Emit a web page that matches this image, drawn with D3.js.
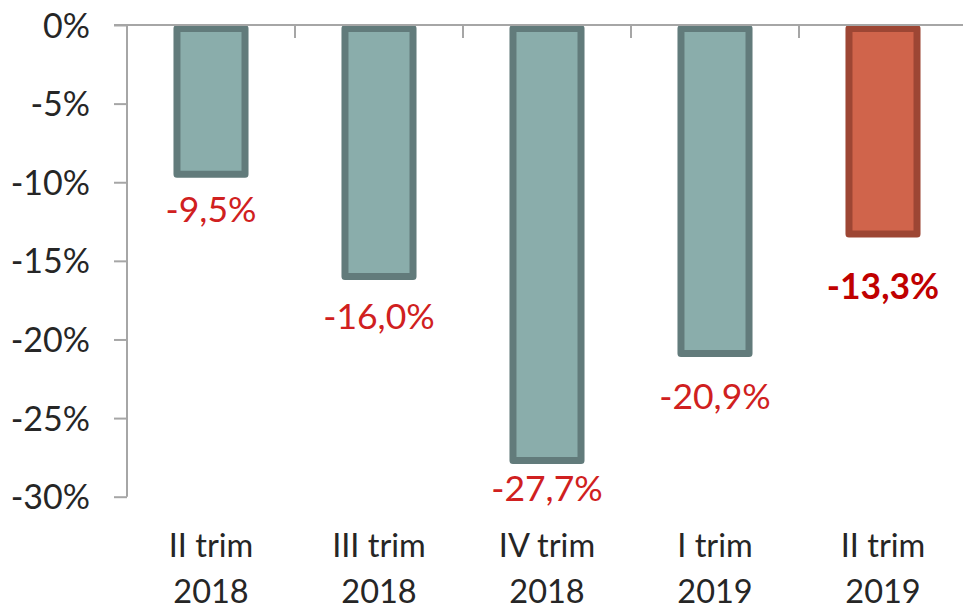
<!DOCTYPE html>
<html>
<head>
<meta charset="utf-8">
<script src="https://cdn.jsdelivr.net/npm/d3@7"></script>
<style>
  html, body { margin: 0; padding: 0; background: #ffffff; }
  svg { display: block; }
</style>
</head>
<body>
<svg id="chart" width="963" height="609"></svg>
<script>
// ---- data ----
const categoriesLine1 = ["II trim", "III trim", "IV trim", "I trim", "II trim"];
const categoriesLine2 = ["2018", "2018", "2018", "2019", "2019"];
const values = [-9.5, -16.0, -27.7, -20.9, -13.3];
const valueLabels = ["-9,5%", "-16,0%", "-27,7%", "-20,9%", "-13,3%"];
const highlighted = [false, false, false, false, true];
const yTicks = [0, -5, -10, -15, -20, -25, -30];
const yTickLabels = ["0%", "-5%", "-10%", "-15%", "-20%", "-25%", "-30%"];

// ---- layout ----
const labelDy = [48, 52, 40, 55, 65];
const font = "Lato, 'Open Sans', sans-serif";

const svg = d3.select("#chart");
const keys = categoriesLine1.map((d, i) => i);

const x = d3.scaleBand().domain(keys).range([127, 967])
  .paddingInner(0.595).paddingOuter(0.2975);
const y = d3.scaleLinear().domain([0, -30]).range([25, 496.7]);

// bars
const sw = 7;
svg.append("g").selectAll("rect").data(values).join("rect")
  .attr("x", (d, i) => x(i))
  .attr("y", y(0) + sw / 2)
  .attr("width", x.bandwidth())
  .attr("height", d => y(d) - y(0) - sw / 2)
  .attr("fill", (d, i) => highlighted[i] ? "#d0644b" : "#8aadab")
  .attr("stroke", (d, i) => highlighted[i] ? "#9d4634" : "#627b7b")
  .attr("stroke-width", sw)
  .attr("stroke-linejoin", "round");

// y axis
const axisColor = "#a6a6a6";
const yAxis = svg.append("g").attr("transform", "translate(127,0)")
  .call(d3.axisLeft(y).tickValues(yTicks).tickSize(13).tickFormat((d, i) => yTickLabels[i]));
yAxis.select(".domain").attr("stroke", axisColor).attr("stroke-width", 2)
  .attr("d", `M0,${y(0)}V${y(-30)}`);
yAxis.selectAll(".tick line").attr("stroke", axisColor).attr("stroke-width", 2);
yAxis.selectAll(".tick text")
  .attr("x", -37).attr("dy", null).attr("y", 12)
  .attr("fill", "#262626").attr("font-family", font).attr("font-size", 34)
  .attr("text-anchor", "end");

// x axis at zero line
const xAxis = svg.append("g").attr("transform", `translate(0,${y(0)})`)
  .call(d3.axisBottom(x).tickSize(0).tickFormat(""));
xAxis.select(".domain").attr("stroke", axisColor).attr("stroke-width", 2)
  .attr("d", "M114,0H963");
const boundaries = d3.range(keys.length + 1).map(i => x.range()[0] + i * x.step());
xAxis.selectAll("line.cat").data(boundaries.slice(1)).join("line")
  .attr("class", "cat")
  .attr("x1", d => d).attr("x2", d => d)
  .attr("y1", 0).attr("y2", 13)
  .attr("stroke", axisColor).attr("stroke-width", 2);

// category labels
const cat = svg.append("g").selectAll("text").data(keys).join("text")
  .attr("x", i => x(i) + x.bandwidth() / 2)
  .attr("text-anchor", "middle")
  .attr("font-family", font).attr("font-size", 32.5)
  .attr("fill", "#262626");
cat.append("tspan").attr("x", i => x(i) + x.bandwidth() / 2).attr("y", 557).text(i => categoriesLine1[i]);
cat.append("tspan").attr("x", i => x(i) + x.bandwidth() / 2).attr("y", 603).text(i => categoriesLine2[i]);

// value labels
svg.append("g").selectAll("text").data(values).join("text")
  .attr("x", (d, i) => x(i) + x.bandwidth() / 2)
  .attr("y", (d, i) => y(d) + labelDy[i])
  .attr("text-anchor", "middle")
  .attr("font-family", font).attr("font-size", 35.5)
  .attr("font-weight", (d, i) => highlighted[i] ? "bold" : "normal")
  .attr("fill", (d, i) => highlighted[i] ? "#c00000" : "#d02020")
  .text((d, i) => valueLabels[i]);
</script>
</body>
</html>
